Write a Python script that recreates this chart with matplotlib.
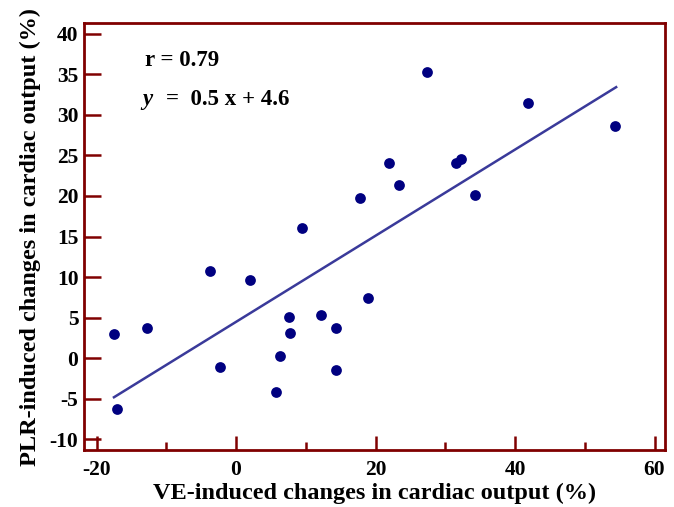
import numpy as np
import matplotlib
matplotlib.use("Agg")
import matplotlib.pyplot as plt

# VE-induced vs PLR-induced changes in cardiac output (%)
ve_change = [-17.5, -17.1, -12.8, -3.7, -2.3, 2.0, 5.7, 6.3, 7.6, 7.8,
             9.5, 12.2, 14.4, 14.4, 17.8, 18.9, 22.0, 23.3, 27.4, 31.5,
             32.2, 34.2, 41.8, 54.4]
plr_change = [3.0, -6.2, 3.7, 10.8, -1.1, 9.6, -4.1, 0.3, 5.1, 3.1,
              16.0, 5.3, 3.7, -1.4, 19.7, 7.4, 24.0, 21.3, 35.3, 24.0,
              24.5, 20.1, 31.5, 28.6]

# regression line as drawn
fit_x = [-17.5, 54.5]
fit_y = [-4.8, 33.4]

plt.rcParams['font.family'] = ['Liberation Serif', 'DejaVu Serif']
plt.rcParams['font.weight'] = 'bold'
plt.rcParams['axes.unicode_minus'] = False

red = '#800000'

fig = plt.figure(figsize=(6.74, 5.07), dpi=100)
ax = fig.add_axes([0.1246, 0.1124, 0.862, 0.8422])

ax.plot(fit_x, fit_y, color='#3a3a9a', lw=1.8, zorder=2)
ax.scatter(ve_change, plr_change, s=60, color='#000080', zorder=3, linewidths=0)

ax.set_xlim(-21.8, 61.5)
ax.set_ylim(-11.3, 41.3)
ax.set_xticks([-20, 0, 20, 40, 60])
ax.set_xticks([-10, 10, 30, 50], minor=True)
ax.set_yticks(np.arange(-10, 41, 5))

for s in ax.spines.values():
    s.set_color(red)
    s.set_linewidth(2)

ax.tick_params(axis='y', which='major', direction='in', length=12, width=1.8,
               color=red, labelsize=15.5, pad=4)
ax.tick_params(axis='x', which='major', direction='in', length=10, width=1.8,
               color=red, labelsize=15.5, pad=7)
ax.tick_params(axis='x', which='minor', direction='in', length=6, width=1.8,
               color=red)
for lab in ax.get_xticklabels() + ax.get_yticklabels():
    lab.set_fontweight('bold')

ax.set_xlabel('VE-induced changes in cardiac output (%)', fontsize=17.5,
              fontweight='bold', labelpad=2)
ax.set_ylabel('PLR-induced changes in cardiac output (%)', fontsize=17.5,
              fontweight='bold', labelpad=6)

ax.text(0.105, 0.913, 'r = 0.79', transform=ax.transAxes, fontsize=16.5,
        fontweight='bold', va='center')
ax.text(0.100, 0.82, 'y', transform=ax.transAxes, fontsize=16.5,
        fontweight='bold', style='italic', va='center')
ax.text(0.141, 0.82, '=  0.5 x + 4.6', transform=ax.transAxes, fontsize=16.5,
        fontweight='bold', va='center')

fig.savefig('out.png', dpi=100)
